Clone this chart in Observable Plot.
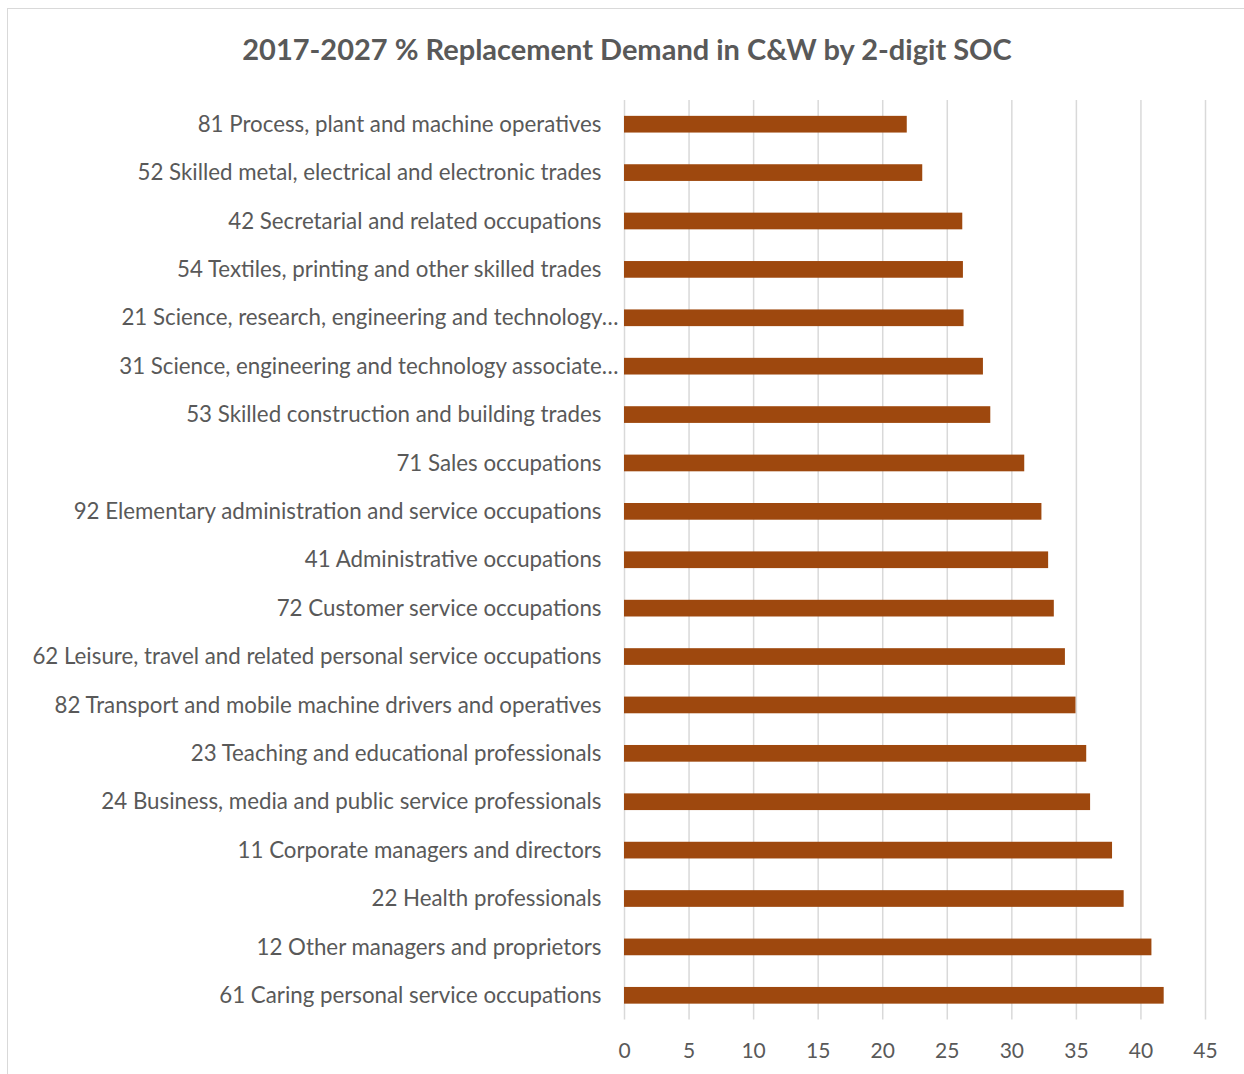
<!DOCTYPE html>
<html><head><meta charset="utf-8">
<script src="https://cdn.jsdelivr.net/npm/d3@7"></script>
<script src="https://cdn.jsdelivr.net/npm/@observablehq/plot@0.6"></script>
<style>
body{margin:0;background:#fff;}
#wrap{position:relative;width:1244px;height:1074px;overflow:hidden;background:#fff;}
#frame{position:absolute;left:7px;top:8px;width:1300px;height:1100px;border-left:1.5px solid #d9d9d9;border-top:1.5px solid #d9d9d9;}
#title{position:absolute;left:7px;width:1240px;top:31px;text-align:center;font-family:Lato,sans-serif;font-weight:bold;font-size:29px;line-height:36px;color:#595959;}
#chart{position:absolute;left:0;top:0;}
</style></head><body>
<div id="wrap"><div id="frame"></div><div id="title">2017-2027 % Replacement Demand in C&amp;W by 2-digit SOC</div><div id="chart"></div></div>
<script>
const occupations = [
  "81 Process, plant and machine operatives",
  "52 Skilled metal, electrical and electronic trades",
  "42 Secretarial and related occupations",
  "54 Textiles, printing and other skilled trades",
  "21 Science, research, engineering and technology…",
  "31 Science, engineering and technology associate…",
  "53 Skilled construction and building trades",
  "71 Sales occupations",
  "92 Elementary administration and service occupations",
  "41 Administrative occupations",
  "72 Customer service occupations",
  "62 Leisure, travel and related personal service occupations",
  "82 Transport and mobile machine drivers and operatives",
  "23 Teaching and educational professionals",
  "24 Business, media and public service professionals",
  "11 Corporate managers and directors",
  "22 Health professionals",
  "12 Other managers and proprietors",
  "61 Caring personal service occupations"
];
const values = [21.9, 23.1, 26.2, 26.25, 26.3, 27.8, 28.37, 31.0, 32.33, 32.85, 33.29, 34.15, 34.97, 35.8, 36.1, 37.8, 38.7, 40.85, 41.8];
const xTicks = [0, 5, 10, 15, 20, 25, 30, 35, 40, 45];

const data = occupations.map((o, i) => ({occupation: o, value: values[i], cut: o.endsWith("…")}));

const chart = Plot.plot({
  width: 1244,
  height: 1074,
  marginTop: 100,
  marginBottom: 54.5,
  marginLeft: 624,
  marginRight: 39,
  style: {fontFamily: "Lato, sans-serif", fontSize: "21px", color: "#595959", background: "transparent"},
  x: {domain: [0, 45], ticks: xTicks, tickSize: 0, tickPadding: 23, label: null},
  y: {domain: occupations, paddingInner: 0.655, paddingOuter: 0.3275, round: false, axis: null},
  marks: [
    Plot.ruleX(xTicks, {stroke: "#d9d9d9", strokeWidth: 1.5}),
    Plot.barX(data, {x: "value", y: "occupation", fill: "#9E480E"}),
    Plot.text(data.filter(d => !d.cut), {x: 0, y: "occupation", text: "occupation", textAnchor: "end", dx: -23, fill: "#595959", fontSize: 22.3}),
    Plot.text(data.filter(d => d.cut), {x: 0, y: "occupation", text: "occupation", textAnchor: "end", dx: -6, fill: "#595959", fontSize: 22.3})
  ]
});
document.getElementById("chart").appendChild(chart);
</script>
</body></html>
